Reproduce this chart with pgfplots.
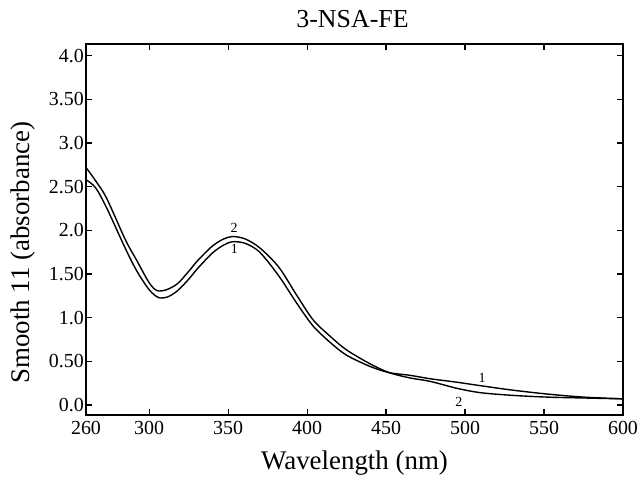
\documentclass[border=0pt]{standalone}
\usepackage{fontspec}
\setmainfont{Liberation Serif}
\usepackage{pgfplots}
\pgfplotsset{compat=1.18}

% absorbance spectra, curve 1 and curve 2
\pgfplotstableread{
x y
260 2.58
266 2.49
273 2.26
285 1.79
292 1.54
300 1.32
306 1.23
312 1.24
318 1.31
325 1.44
331 1.57
340 1.74
347 1.83
353 1.87
361 1.85
370 1.75
382 1.48
394 1.15
404 0.90
415 0.71
425 0.57
440 0.44
452 0.37
465 0.34
478 0.30
495 0.26
510 0.22
530 0.17
552 0.125
575 0.09
600 0.07
}\curveone

\pgfplotstableread{
x y
260 2.72
266 2.57
273 2.37
285 1.89
292 1.66
300 1.40
305 1.31
311 1.32
318 1.39
325 1.53
331 1.66
340 1.82
347 1.90
353 1.93
361 1.90
370 1.80
382 1.58
394 1.24
404 0.97
415 0.78
425 0.63
440 0.47
452 0.37
465 0.31
478 0.27
495 0.19
510 0.14
530 0.11
552 0.09
575 0.08
600 0.07
}\curvetwo

\begin{document}
\begin{tikzpicture}
\begin{axis}[
    scale only axis,
    width=537bp, height=371bp,
    xmin=260, xmax=600,
    ymin=-0.115, ymax=4.135,
    xtick={260,300,350,400,450,500,550,600},
    ytick={0,0.5,1,1.5,2,2.5,3,3.5,4},
    yticklabels={0.0,0.50,1.0,1.50,2.0,2.50,3.0,3.50,4.0},
    tick align=inside,
    major tick length=6bp,
    tick style={line width=1.2bp, black},
    axis line style={line width=2bp},
    /pgf/number format/assume math mode=true,
    tick label style={font=\fontsize{20}{20}\selectfont},
    xticklabel style={inner sep=0pt, yshift=-6bp},
    yticklabel style={inner sep=0pt, xshift=-2bp},
    title={3-NSA-FE},
    title style={font=\fontsize{26}{26}\selectfont, at={(axis description cs:0.5,1)}, anchor=base, yshift=11bp, xshift=-2bp},
    xlabel={Wavelength (nm)},
    xlabel style={font=\fontsize{27}{27}\selectfont, at={(axis description cs:0.5,0)}, anchor=base, yshift=-54bp},
    ylabel={Smooth 11 (absorbance)},
    ylabel style={font=\fontsize{27}{27}\selectfont, at={(axis description cs:0,0.5)}, anchor=center, yshift=63bp, xshift=-23bp},
]
\addplot[black, line width=1.4bp, smooth, tension=0.5] table {\curveone};
\addplot[black, line width=1.4bp, smooth, tension=0.5] table {\curvetwo};
\node[font=\fontsize{14}{14}\selectfont] at (axis cs:353.7,2.03) {2};
\node[font=\fontsize{14}{14}\selectfont] at (axis cs:354,1.79) {1};
\node[font=\fontsize{14}{14}\selectfont] at (axis cs:510.8,0.31) {1};
\node[font=\fontsize{14}{14}\selectfont] at (axis cs:496,0.04) {2};
\end{axis}
\pgfresetboundingbox
\path[use as bounding box] ([shift={(-86bp,-62bp)}]current axis.south west) rectangle ([shift={(14bp,44bp)}]current axis.north east);
\end{tikzpicture}
\end{document}
